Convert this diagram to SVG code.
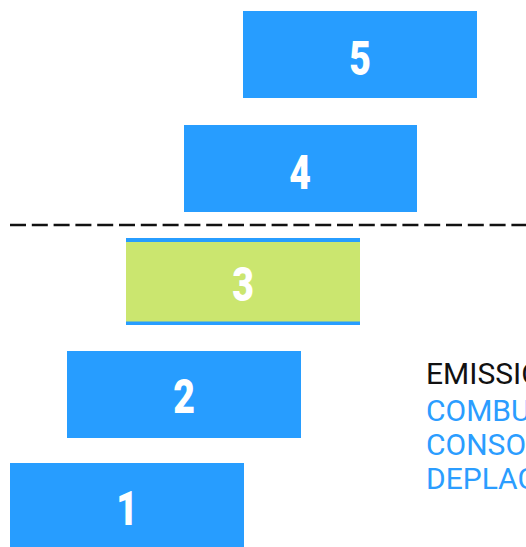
<svg xmlns="http://www.w3.org/2000/svg" width="526" height="547" viewBox="0 0 526 547">
<style>
.box{fill:#279dff}
.num{fill:#fff;font-family:Roboto,"Liberation Sans",sans-serif;font-weight:900;font-size:48px;text-anchor:middle}
.lbl{font-family:Roboto,"Open Sans",sans-serif;font-size:30px}
</style>
<rect width="526" height="547" fill="#fff"/>
<g id="step5"><rect class="box" x="243" y="11" width="234" height="87"/><text class="num" transform="translate(360 75) scale(0.78 1)">5</text></g>
<g id="step4"><rect class="box" x="184" y="125" width="233" height="87"/><text class="num" transform="translate(300 189) scale(0.78 1)">4</text></g>
<g id="divider"><line x1="10" y1="225" x2="526" y2="225" stroke="#111" stroke-width="2.5" stroke-dasharray="16 5.8"/></g>
<g id="step3"><rect x="126" y="238" width="234" height="87" fill="#279dff"/><rect x="126" y="242" width="234" height="79.5" fill="#cbe66f"/><text class="num" transform="translate(243 301) scale(0.78 1)">3</text></g>
<g id="step2"><rect class="box" x="67" y="351" width="234" height="87"/><text class="num" transform="translate(184 413) scale(0.78 1)">2</text></g>
<g id="step1"><rect class="box" x="10" y="463" width="234" height="87"/><text class="num" transform="translate(127 525) scale(0.78 1)">1</text></g>
<g id="legend">
<text class="lbl" x="426" y="384" fill="#111">EMISSIONS</text>
<text class="lbl" x="426" y="421" fill="#2b9dff">COMBUSTIBLE</text>
<text class="lbl" x="426" y="455" fill="#2b9dff">CONSOMMATION</text>
<text class="lbl" x="426" y="489" fill="#2b9dff">DEPLACEMENT</text>
</g>
</svg>
